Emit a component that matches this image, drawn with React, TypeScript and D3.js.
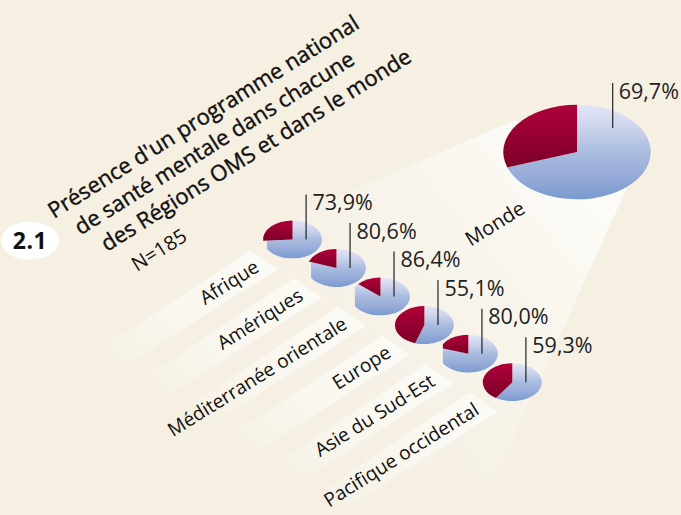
import React from "react";
import * as d3 from "d3";

// Share of countries with a national mental health programme, by WHO region.
const regions = ["Afrique", "Amériques", "Méditerranée orientale", "Europe", "Asie du Sud-Est", "Pacifique occidental"];
const regionValues = [73.9, 80.6, 86.4, 55.1, 80.0, 59.3];
const worldLabel = "Monde";
const worldValue = 69.7;
const titleLines = ["Présence d'un programme national", "de santé mentale dans chacune", "des Régions OMS et dans le monde"];
const sampleNote = "N=185";
const figureNumber = "2.1";

const WIDTH = 681;
const HEIGHT = 515;
const BG = "#f6f0e3";
const ANGLE = -32;
const SANS = "'Open Sans', sans-serif";

const fmt = (v: number) => v.toFixed(1).replace(".", ",") + "%";

const cxScale = d3.scalePoint<string>().domain(regions).range([292.5, 512.3]);
const cyScale = d3.scalePoint<string>().domain(regions).range([239.5, 382.2]);

// The pie starts at 12 o'clock; the "yes" share runs clockwise, the remainder closes the circle.
const pie = d3.pie<number>().sort(null);

function Pie({ cx, cy, rx, ry, value, id, clipBlue, clipRed }: { cx: number; cy: number; rx: number; ry: number; value: number; id: string; clipBlue: boolean; clipRed: boolean }) {
  const arcs = pie([value, 100 - value]);
  const arc = d3.arc<d3.PieArcDatum<number>>().innerRadius(0).outerRadius(rx);
  const url = `url(#${id})`;
  return (
    <g transform={`translate(${cx},${cy}) scale(1,${ry / rx})`}>
      <clipPath id={id}>
        <rect x={-rx * 0.865} y={-rx} width={rx * 2} height={rx * 2} />
      </clipPath>
      <path d={arc(arcs[0]) || ""} fill="url(#pieBlue)" clipPath={clipBlue ? url : undefined} />
      <path d={arc(arcs[1]) || ""} fill="url(#pieRed)" clipPath={clipRed ? url : undefined} />
    </g>
  );
}

function Strip({ cx, cy }: { cx: number; cy: number }) {
  // A ribbon running down-left from under each pie, carrying the region name.
  const path = d3.path();
  path.moveTo(cx - 42.5, cy + 10.5);
  path.lineTo(cx - 14.5, cy + 29.5);
  path.lineTo(cx - 165.5, cy + 125.5);
  path.lineTo(cx - 185.5, cy + 105.5);
  path.closePath();
  return <path d={path.toString()} fill="url(#stripFade)" />;
}

export default function App() {
  const worldCx = 577;
  const worldCy = 152;
  const beam = d3.path();
  beam.moveTo(515, 120);
  beam.lineTo(100, 300);
  beam.lineTo(300, 515);
  beam.lineTo(478, 515);
  beam.lineTo(627, 188);
  beam.closePath();

  return (
    <svg
      width={WIDTH}
      height={HEIGHT}
      viewBox={`0 0 ${WIDTH} ${HEIGHT}`}
      style={{ position: "absolute", left: 0, top: 0, display: "block" }}
    >
      <defs>
        <linearGradient id="pieBlue" x1="0" y1="0" x2="0" y2="1">
          <stop offset="0" stopColor="#e2e5f6" />
          <stop offset="0.25" stopColor="#ccd3ec" />
          <stop offset="0.5" stopColor="#a9bcdf" />
          <stop offset="0.75" stopColor="#97abd8" />
          <stop offset="1" stopColor="#789bd0" />
        </linearGradient>
        <linearGradient id="pieRed" x1="0" y1="0" x2="0" y2="1">
          <stop offset="0" stopColor="#b00039" />
          <stop offset="1" stopColor="#7c0028" />
        </linearGradient>
        <linearGradient id="stripFade" gradientUnits="objectBoundingBox" x1="1" y1="0" x2="0" y2="1">
          <stop offset="0" stopColor="#fbfbf6" />
          <stop offset="0.55" stopColor="#f9f7ef" />
          <stop offset="1" stopColor="#f6f1e5" />
        </linearGradient>
        <linearGradient id="beamFade" gradientUnits="userSpaceOnUse" x1="590" y1="150" x2="280" y2="400">
          <stop offset="0" stopColor="#fdfcf8" />
          <stop offset="0.4" stopColor="#f8f5ec" />
          <stop offset="0.8" stopColor="#f6f0e5" />
          <stop offset="1" stopColor="#f6efe4" />
        </linearGradient>
      </defs>

      <rect width={WIDTH} height={HEIGHT} fill={BG} />
      <path d={beam.toString()} fill="url(#beamFade)" />

      {regions.map((r) => (
        <Strip key={r} cx={cxScale(r)!} cy={cyScale(r)!} />
      ))}

      <Pie cx={worldCx} cy={worldCy} rx={73.7} ry={47.3} value={worldValue} id="clip-world" clipBlue={false} clipRed={false} />
      <line x1={worldCx + 35.7} x2={worldCx + 35.7} y1={worldCy - 69} y2={worldCy - 24} stroke="#222" strokeWidth={1.2} />
      <text x={worldCx + 41.7} y={worldCy - 53} fontFamily={SANS} fontWeight={400} fontSize={21.5} fill="#222">{fmt(worldValue)}</text>
      <text transform={`translate(${worldCx - 50.5},${worldCy + 60}) rotate(${ANGLE})`} textAnchor="end" fontFamily={SANS} fontWeight={400} fontSize={20} fill="#111">{worldLabel}</text>

      {regions.map((r, i) => {
        const cx = cxScale(r)!;
        const cy = cyScale(r)!;
        return (
          <g key={r}>
            <Pie cx={cx} cy={cy} rx={29.5} ry={19} value={regionValues[i]} id={`clip-${i}`} clipBlue clipRed={i === 4} />
            <line x1={cx + 13.6} x2={cx + 13.6} y1={cy - 45} y2={cy} stroke="#222" strokeWidth={1.2} />
            <text x={cx + 20} y={cy - 29.5} fontFamily={SANS} fontWeight={400} fontSize={21.5} fill="#222">{fmt(regionValues[i])}</text>
            <text transform={`translate(${cx - 32},${cy + 31}) rotate(${ANGLE})`} textAnchor="end" fontFamily={SANS} fontWeight={400} fontSize={19.2} fill="#111">{r}</text>
          </g>
        );
      })}

      {titleLines.map((line, i) => (
        <text key={line} transform={`translate(${54 + i * 26.5},${219 + i * 16.5}) rotate(${ANGLE})`} fontFamily={SANS} fontWeight={400} fontSize={22} stroke="#111" strokeWidth={0.4} fill="#111">{line}</text>
      ))}
      <text transform={`translate(137,272) rotate(${ANGLE})`} fontFamily={SANS} fontWeight={400} fontSize={20} fill="#111">{sampleNote}</text>

      <ellipse cx={30} cy={240.7} rx={29} ry={19} fill="#fff" />
      <text x={30} y={249} textAnchor="middle" fontFamily={SANS} fontWeight={700} fontSize={23} letterSpacing={0.6} fill="#111">{figureNumber}</text>
    </svg>
  );
}
